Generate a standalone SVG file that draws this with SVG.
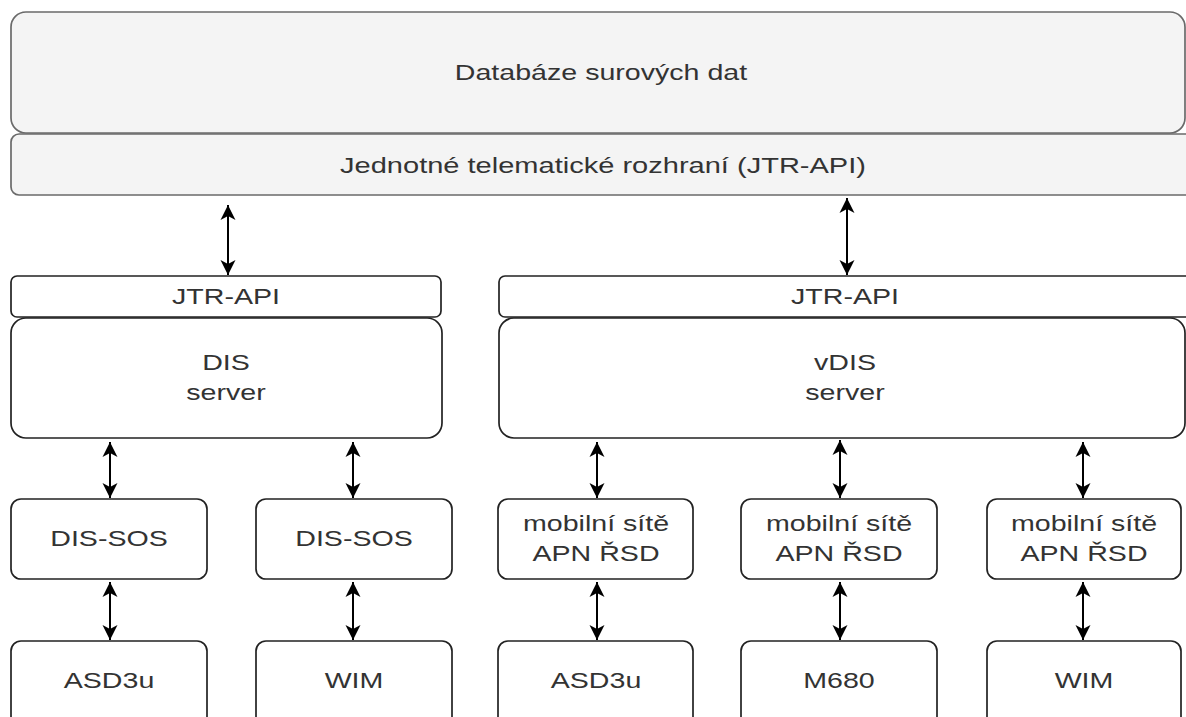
<svg xmlns="http://www.w3.org/2000/svg" width="1186" height="717" viewBox="0 0 1186 717">
<style>
.grey{fill:#f4f4f4;stroke:#6a6a6a;stroke-width:1.7}
.box{fill:#ffffff;stroke:#222222;stroke-width:1.7}
.t{font-family:"Liberation Sans",Arial,sans-serif;font-size:22px;fill:#333333;text-anchor:middle}
.c{stroke:#000000;stroke-width:2;fill:none;marker-start:url(#ah);marker-end:url(#ah)}
</style>
<defs>
<marker id="ah" markerUnits="userSpaceOnUse" markerWidth="16" markerHeight="16" viewBox="0 0 16 16" refX="15" refY="8" orient="auto-start-reverse">
<path d="M0,0.5 L15,8 L0,15.5 L4,8 z" fill="#000000"/>
</marker>
</defs>
<rect width="1186" height="717" fill="#ffffff"/>
<g id="db">
<rect class="grey" x="11" y="12" width="1174" height="121" rx="15"/>
<text class="t" transform="translate(601,80) scale(1.3,1)">Databáze surových dat</text>
</g>
<g id="jtr">
<rect class="grey" x="11" y="134" width="1185" height="61" rx="8"/>
<text class="t" transform="translate(603,173) scale(1.32,1)">Jednotné telematické rozhraní (JTR-API)</text>
</g>
<g id="jtr-api-left">
<rect class="box" x="11" y="276" width="430" height="41" rx="6"/>
<text class="t" transform="translate(226,304) scale(1.3,1)">JTR-API</text>
</g>
<g id="dis-server">
<rect class="box" x="11" y="318" width="431" height="120" rx="15"/>
<text class="t" transform="translate(226,370) scale(1.3,1)">DIS</text>
<text class="t" transform="translate(226,400) scale(1.3,1)">server</text>
</g>
<g id="jtr-api-right">
<rect class="box" x="499" y="276" width="700" height="41" rx="6"/>
<text class="t" transform="translate(845,304) scale(1.3,1)">JTR-API</text>
</g>
<g id="vdis-server">
<rect class="box" x="499" y="318" width="686" height="120" rx="15"/>
<text class="t" transform="translate(845,370) scale(1.3,1)">vDIS</text>
<text class="t" transform="translate(845,400) scale(1.3,1)">server</text>
</g>
<g id="dis-sos-1">
<rect class="box" x="11" y="499" width="196" height="80" rx="10"/>
<text class="t" transform="translate(109,546) scale(1.3,1)">DIS-SOS</text>
</g>
<g id="dis-sos-2">
<rect class="box" x="256" y="499" width="196" height="80" rx="10"/>
<text class="t" transform="translate(354,546) scale(1.3,1)">DIS-SOS</text>
</g>
<g id="apn-1">
<rect class="box" x="498" y="499" width="195" height="80" rx="10"/>
<text class="t" transform="translate(596,531) scale(1.3,1)">mobilní sítě</text>
<text class="t" transform="translate(596,561) scale(1.3,1)">APN ŘSD</text>
</g>
<g id="apn-2">
<rect class="box" x="741" y="499" width="196" height="80" rx="10"/>
<text class="t" transform="translate(839,531) scale(1.3,1)">mobilní sítě</text>
<text class="t" transform="translate(839,561) scale(1.3,1)">APN ŘSD</text>
</g>
<g id="apn-3">
<rect class="box" x="987" y="499" width="194" height="80" rx="10"/>
<text class="t" transform="translate(1084,531) scale(1.3,1)">mobilní sítě</text>
<text class="t" transform="translate(1084,561) scale(1.3,1)">APN ŘSD</text>
</g>
<g id="asd3u-1">
<rect class="box" x="11" y="641" width="196" height="100" rx="10"/>
<text class="t" transform="translate(109,688) scale(1.3,1)">ASD3u</text>
</g>
<g id="wim-1">
<rect class="box" x="256" y="641" width="196" height="100" rx="10"/>
<text class="t" transform="translate(354,688) scale(1.3,1)">WIM</text>
</g>
<g id="asd3u-2">
<rect class="box" x="498" y="641" width="195" height="100" rx="10"/>
<text class="t" transform="translate(596,688) scale(1.3,1)">ASD3u</text>
</g>
<g id="m680">
<rect class="box" x="741" y="641" width="196" height="100" rx="10"/>
<text class="t" transform="translate(839,688) scale(1.3,1)">M680</text>
</g>
<g id="wim-2">
<rect class="box" x="987" y="641" width="194" height="100" rx="10"/>
<text class="t" transform="translate(1084,688) scale(1.3,1)">WIM</text>
</g>
<g id="connectors">
<line class="c" x1="228" y1="205" x2="228" y2="275"/>
<line class="c" x1="847" y1="198" x2="847" y2="275"/>
<line class="c" x1="110" y1="442" x2="110" y2="498"/>
<line class="c" x1="353" y1="442" x2="353" y2="498"/>
<line class="c" x1="597" y1="442" x2="597" y2="498"/>
<line class="c" x1="840" y1="440" x2="840" y2="498"/>
<line class="c" x1="1083" y1="442" x2="1083" y2="498"/>
<line class="c" x1="110" y1="582" x2="110" y2="640"/>
<line class="c" x1="353" y1="582" x2="353" y2="640"/>
<line class="c" x1="597" y1="582" x2="597" y2="640"/>
<line class="c" x1="840" y1="582" x2="840" y2="640"/>
<line class="c" x1="1083" y1="582" x2="1083" y2="640"/>
</g>
</svg>
